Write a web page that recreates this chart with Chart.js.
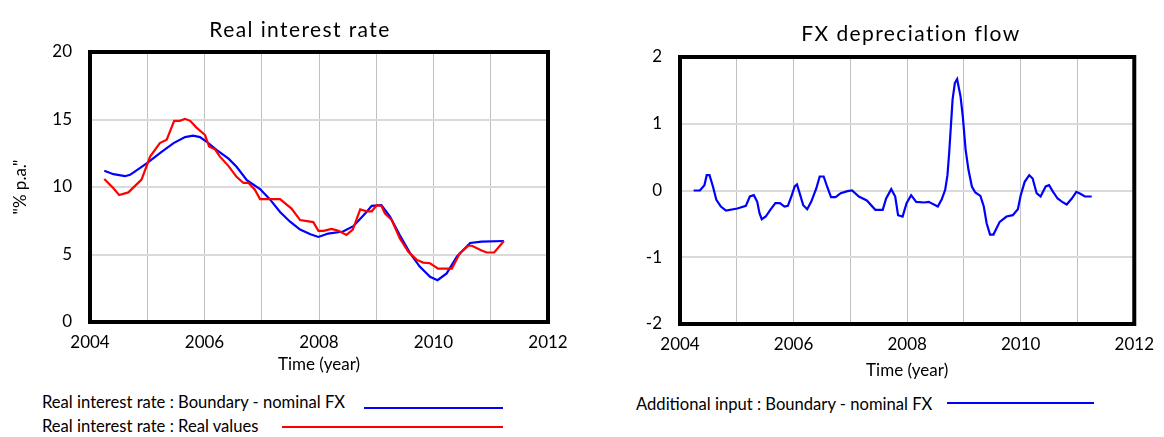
<!DOCTYPE html>
<html>
<head>
<meta charset="utf-8">
<script src="https://cdn.jsdelivr.net/npm/chart.js@4.4.0/dist/chart.umd.min.js"></script>
<style>
  body { margin: 0; background: #fff; width: 1164px; height: 437px; position: relative; overflow: hidden; font-family: Lato, sans-serif; color: #000; }
  .box { position: absolute; top: 0; }
  .title { position: absolute; font-size: 21px; letter-spacing: 1.4px; transform: translate(-50%, -50%); white-space: nowrap; }
  .leg { position: absolute; font-size: 16.6px; transform: translateY(-50%); white-space: nowrap; }
  .swatch { position: absolute; height: 2px; }
</style>
</head>
<body>
<div class="box" style="left:0"><canvas id="rateChart" width="582" height="390"></canvas></div>
<div class="box" style="left:582px"><canvas id="fxChart" width="582" height="390"></canvas></div>

<div class="title" style="left:300px; top:28px">Real interest rate</div>
<div class="title" style="left:911px; top:32px">FX depreciation flow</div>

<div class="leg" style="left:42px; top:402px">Real interest rate : Boundary - nominal FX</div>
<div class="swatch" style="left:364px; top:407px; width:139px; background:#0000ff"></div>
<div class="leg" style="left:42px; top:426px">Real interest rate : Real values</div>
<div class="swatch" style="left:282px; top:426px; width:221px; background:#ff0000"></div>
<div class="leg" style="left:636px; top:404px">Additional input : Boundary - nominal FX</div>
<div class="swatch" style="left:947px; top:402px; width:147px; background:#0000ff"></div>

<script>
// time axis (years) and values
const boundaryTime = [2004.25, 2004.41, 2004.61, 2004.70, 2004.87, 2004.99, 2005.25, 2005.46, 2005.66, 2005.80,
  2005.92, 2006.04, 2006.21, 2006.42, 2006.56, 2006.74, 2006.97, 2007.14, 2007.32, 2007.49,
  2007.67, 2007.85, 2007.99, 2008.16, 2008.42, 2008.60, 2008.83, 2008.92, 2009.09, 2009.24,
  2009.41, 2009.59, 2009.76, 2009.94, 2010.07, 2010.23, 2010.41, 2010.64, 2010.84, 2011.23];
const boundaryRate = [11.2, 10.95, 10.8, 10.9, 11.4, 11.75, 12.6, 13.25, 13.7, 13.8,
  13.7, 13.35, 12.75, 12.1, 11.5, 10.5, 9.85, 9.1, 8.15, 7.45,
  6.85, 6.5, 6.3, 6.55, 6.7, 7.1, 8.15, 8.6, 8.65, 7.8,
  6.45, 5.1, 4.1, 3.35, 3.1, 3.6, 4.85, 5.85, 5.95, 6.0];

const realTime = [2004.25, 2004.41, 2004.51, 2004.67, 2004.90, 2005.05, 2005.22, 2005.34, 2005.47, 2005.57,
  2005.66, 2005.75, 2005.86, 2006.01, 2006.08, 2006.18, 2006.27, 2006.42, 2006.56, 2006.68,
  2006.77, 2006.88, 2006.97, 2007.32, 2007.52, 2007.67, 2007.90, 2007.99, 2008.08, 2008.22,
  2008.34, 2008.48, 2008.59, 2008.72, 2008.83, 2008.92, 2009.01, 2009.09, 2009.15, 2009.27,
  2009.41, 2009.56, 2009.71, 2009.82, 2009.94, 2010.08, 2010.32, 2010.46, 2010.61, 2010.67,
  2010.84, 2010.93, 2011.06, 2011.23];
const realRate = [10.6, 9.9, 9.4, 9.6, 10.55, 12.25, 13.25, 13.5, 14.9, 14.9,
  15.05, 14.9, 14.4, 13.85, 13.0, 12.8, 12.25, 11.55, 10.75, 10.3,
  10.3, 9.8, 9.1, 9.1, 8.4, 7.55, 7.4, 6.75, 6.75, 6.9,
  6.75, 6.45, 6.85, 8.35, 8.2, 8.2, 8.65, 8.6, 8.05, 7.55,
  6.2, 5.2, 4.6, 4.4, 4.35, 3.95, 3.95, 5.1, 5.65, 5.65,
  5.3, 5.15, 5.15, 6.0];

const fxTime = [2004.24, 2004.35, 2004.43, 2004.47, 2004.52, 2004.58, 2004.64, 2004.72, 2004.81, 2005.01,
  2005.16, 2005.23, 2005.30, 2005.36, 2005.40, 2005.44, 2005.51, 2005.59, 2005.68, 2005.76,
  2005.84, 2005.90, 2005.96, 2006.02, 2006.06, 2006.10, 2006.17, 2006.24, 2006.31, 2006.40,
  2006.46, 2006.53, 2006.59, 2006.66, 2006.74, 2006.83, 2006.95, 2007.03, 2007.15, 2007.29,
  2007.44, 2007.57, 2007.63, 2007.72, 2007.79, 2007.84, 2007.92, 2007.99, 2008.07, 2008.16,
  2008.30, 2008.38, 2008.54, 2008.61, 2008.67, 2008.71, 2008.74, 2008.77, 2008.80, 2008.84,
  2008.88, 2008.94, 2008.98, 2009.03, 2009.08, 2009.14, 2009.20, 2009.29, 2009.35, 2009.40,
  2009.46, 2009.52, 2009.63, 2009.75, 2009.86, 2009.95, 2010.00, 2010.07, 2010.15, 2010.21,
  2010.28, 2010.35, 2010.44, 2010.50, 2010.57, 2010.65, 2010.73, 2010.81, 2010.90, 2010.98,
  2011.05, 2011.13, 2011.25];
const fxInput = [0, 0, 0.08, 0.23, 0.23, 0.06, -0.14, -0.24, -0.3, -0.27,
  -0.23, -0.09, -0.07, -0.17, -0.34, -0.43, -0.39, -0.29, -0.19, -0.19,
  -0.24, -0.23, -0.09, 0.06, 0.09, -0.02, -0.22, -0.28, -0.17, 0.03,
  0.21, 0.21, 0.06, -0.1, -0.1, -0.04, -0.01, 0, -0.09, -0.15,
  -0.29, -0.29, -0.12, 0.02, -0.09, -0.37, -0.39, -0.19, -0.07, -0.17,
  -0.18, -0.17, -0.24, -0.13, 0.01, 0.23, 0.56, 0.96, 1.36, 1.61,
  1.67, 1.41, 1.11, 0.61, 0.31, 0.06, -0.03, -0.08, -0.24, -0.49,
  -0.66, -0.66, -0.47, -0.39, -0.37, -0.28, -0.07, 0.13, 0.23, 0.18,
  -0.04, -0.09, 0.06, 0.08, -0.02, -0.12, -0.17, -0.21, -0.12, -0.02,
  -0.05, -0.09, -0.09];

const yearTicks = [2004, 2006, 2008, 2010, 2012];

function pairs(xs, ys) {
  return xs.map((x, i) => ({ x: x, y: ys[i] }));
}

Chart.defaults.font.family = 'Lato, sans-serif';
Chart.defaults.color = '#000';

// thick black frame round the plot area
const framePlugin = {
  id: 'frame',
  afterDatasetsDraw(chart) {
    const { ctx, chartArea: a } = chart;
    ctx.save();
    ctx.strokeStyle = '#000';
    ctx.lineWidth = 4;
    ctx.strokeRect(a.left, a.top, a.right - a.left, a.bottom - a.top);
    ctx.restore();
  }
};

function lineSet(data, color) {
  return { data: data, borderColor: color, backgroundColor: color, borderWidth: 2.2, pointRadius: 0, tension: 0, fill: false };
}

function makeOptions(o) {
  return {
    responsive: false,
    animation: false,
    layout: { padding: { left: 0, right: o.right, top: o.top, bottom: 0 } },
    plugins: { legend: { display: false }, tooltip: { enabled: false } },
    scales: {
      x: {
        type: 'linear', min: 2004, max: 2012,
        afterFit: s => { s.height = o.xHeight; },
        ticks: {
          stepSize: 1, autoSkip: false, maxRotation: 0, padding: 10,
          font: { size: 17 },
          callback: v => yearTicks.includes(v) ? String(v) : ''
        },
        grid: { color: '#c0c0c0', lineWidth: 1, drawTicks: false },
        border: { display: false },
        title: { display: true, text: 'Time (year)', font: { size: 17 }, padding: { bottom: o.xTitlePad } }
      },
      y: {
        min: o.ymin, max: o.ymax,
        afterFit: s => { s.width = o.yWidth; },
        ticks: { stepSize: o.step, padding: 18, font: { size: 17 } },
        grid: { color: '#dadada', lineWidth: 2, drawTicks: false },
        border: { display: false },
        title: { display: !!o.yTitle, text: o.yTitle || '', font: { size: 17 }, padding: { top: 10 } }
      }
    }
  };
}

new Chart(document.getElementById('rateChart').getContext('2d'), {
  type: 'line',
  data: {
    datasets: [
      lineSet(pairs(realTime, realRate), '#ff0000'),
      lineSet(pairs(boundaryTime, boundaryRate), '#0000ff')
    ]
  },
  options: makeOptions({ right: 34, top: 52, xHeight: 68, xTitlePad: 15, yWidth: 90, ymin: 0, ymax: 20, step: 5, yTitle: '"% p.a."' }),
  plugins: [framePlugin]
});

new Chart(document.getElementById('fxChart').getContext('2d'), {
  type: 'line',
  data: {
    datasets: [lineSet(pairs(fxTime, fxInput), '#0000ff')]
  },
  options: makeOptions({ right: 22, top: 57, xHeight: 66, xTitlePad: 9, yWidth: 98, ymin: -2, ymax: 2, step: 1 }),
  plugins: [framePlugin]
});
</script>
</body>
</html>
